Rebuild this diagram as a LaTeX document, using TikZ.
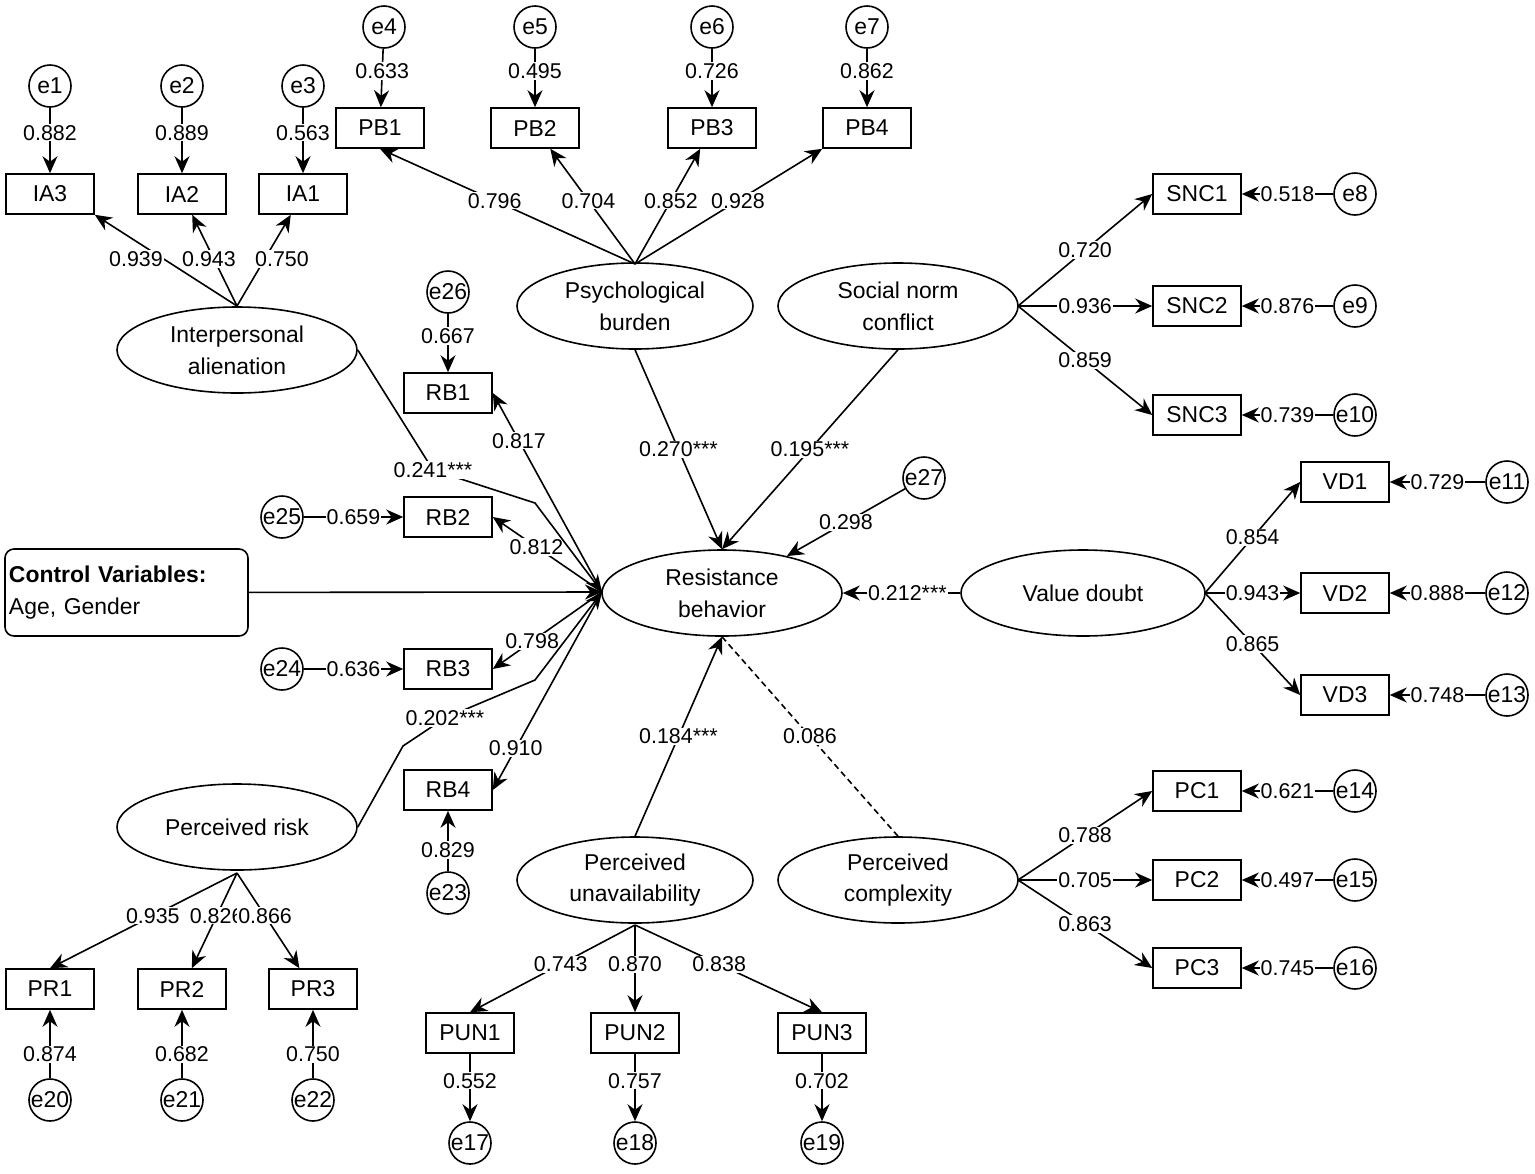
\documentclass[tikz,border=0pt]{standalone}
\usepackage{fontspec}
\setmainfont{Liberation Sans}
\usetikzlibrary{arrows.meta,shapes.geometric}
\begin{document}
\begin{tikzpicture}[x=1bp,y=-1bp,line width=1.6bp,
  box/.style={draw,minimum width=88bp,minimum height=40bp,inner sep=0pt,font=\fontsize{23}{25}\selectfont},
  err/.style={draw,circle,minimum size=42bp,inner sep=0pt,font=\fontsize{23}{25}\selectfont},
  lat/.style={draw,ellipse,minimum width=240bp,minimum height=86bp,inner sep=0pt,align=center,font=\fontsize{23}{32}\selectfont},
  lb/.style={fill=white,inner sep=1bp,font=\fontsize{21.5}{23}\selectfont},
  ar/.style={-{Stealth[length=17bp,width=15bp]}}]
\useasboundingbox (0,0) rectangle (1535,1173);
% boxes
\foreach \n/\x/\y in {IA3/50/194,IA2/182/194,IA1/303/194,PB1/380/128,PB2/535/128,PB3/712/128,PB4/867/128,
 SNC1/1197/194,SNC2/1197/306,SNC3/1197/415,RB1/448/393,RB2/448/517,RB3/448/669,RB4/448/790,
 VD1/1345/482,VD2/1345/593,VD3/1345/695,PC1/1197/791,PC2/1197/880,PC3/1197/968,
 PR1/50/989,PR2/182/989,PR3/313/989,PUN1/470/1033,PUN2/635/1033,PUN3/822/1033}
 \node[box] (\n) at (\x,\y) {\n};
\foreach \n/\x/\y in {e1/50/86,e2/182/86,e3/303/86,e4/384/27,e5/535/27,e6/712/27,e7/867/27,
 e8/1355/194,e9/1355/306,e10/1355/415,e26/448/292,e25/282/517,e24/282/669,e23/448/893,
 e11/1507/482,e12/1507/593,e13/1507/695,e14/1355/791,e15/1355/880,e16/1355/968,
 e20/50/1100,e21/182/1100,e22/313/1100,e17/470/1143,e18/635/1143,e19/822/1143,e27/924/478}
 \node[err] (\n) at (\x,\y) {\n};
% latent
\node[lat] (IA) at (237,350) {Interpersonal\\alienation};
\node[lat,minimum width=236bp] (PB) at (635,306) {Psychological\\burden};
\node[lat] (SN) at (898,306) {Social norm\\conflict};
\node[lat] (RES) at (722,593) {Resistance\\behavior};
\node[lat,minimum width=244bp] (VD) at (1083,593) {Value doubt};
\node[lat] (PR) at (237,827) {Perceived risk};
\node[lat,minimum width=236bp] (PU) at (635,880) {Perceived\\unavailability};
\node[lat] (PC) at (898,880) {Perceived\\complexity};
\node[draw,rounded corners=9bp,minimum width=243bp,minimum height=87bp,align=left,inner sep=4bp,
  font=\fontsize{23}{32}\selectfont,text width=235bp] (CV) at (126.5,592.5) {\textbf{Control Variables:}\\Age, Gender};
% error arrows with labels
\foreach \e/\t/\v in {e1/IA3/0.882,e2/IA2/0.889,e3/IA1/0.563,e4/PB1/0.633,e5/PB2/0.495,e6/PB3/0.726,e7/PB4/0.862,e26/RB1/0.667}
 \draw[ar] (\e) -- node[lb,pos=0.38]{\v} (\t);
\foreach \e/\t/\v in {e8/SNC1/0.518,e9/SNC2/0.876,e10/SNC3/0.739,e25/RB2/0.659,e24/RB3/0.636,
 e11/VD1/0.729,e12/VD2/0.888,e13/VD3/0.748,e14/PC1/0.621,e15/PC2/0.497,e16/PC3/0.745,e27/RES/0.298}
 \draw[ar] (\e) -- node[lb]{\v} (\t);
\foreach \e/\t/\v in {e20/PR1/0.874,e21/PR2/0.682,e22/PR3/0.750,e23/RB4/0.829}
 \draw[ar] (\e) -- node[lb,pos=0.35]{\v} (\t);
\foreach \t/\e/\v in {PUN1/e17/0.552,PUN2/e18/0.757,PUN3/e19/0.702}
 \draw[ar] (\t) -- node[lb,pos=0.4]{\v} (\e);
% loadings
\coordinate (IAt) at (237,306);
\draw[ar] (IAt) -- (IA3.south east);
\draw[ar] (IAt) -- (IA2);
\draw[ar] (IAt) -- (IA1);
\node[lb] (l1) at (136,259) {0.939};
\node[lb] (l2) at (209,259) {0.943};
\node[lb] (l3) at (282,259) {0.750};
\coordinate (PBt) at (635,264);
\draw[ar] (PBt) -- node[lb,pos=0.55]{0.796} (PB1.south);
\draw[ar] (PBt) -- node[lb,pos=0.55]{0.704} (PB2);
\draw[ar] (PBt) -- node[lb,pos=0.55]{0.852} (PB3);
\draw[ar] (PBt) -- node[lb,pos=0.55]{0.928} (PB4.south west);
\coordinate (SNr) at (1018,306);
\draw[ar] (SNr) -- node[lb]{0.720} (SNC1.west);
\draw[ar] (SNr) -- node[lb]{0.936} (SNC2.west);
\draw[ar] (SNr) -- node[lb]{0.859} (SNC3.west);
\coordinate (VDr) at (1205,593);
\draw[ar] (VDr) -- node[lb]{0.854} (VD1.west);
\draw[ar] (VDr) -- node[lb]{0.943} (VD2.west);
\draw[ar] (VDr) -- node[lb]{0.865} (VD3.west);
\coordinate (PCr) at (1018,880);
\draw[ar] (PCr) -- node[lb]{0.788} (PC1.west);
\draw[ar] (PCr) -- node[lb]{0.705} (PC2.west);
\draw[ar] (PCr) -- node[lb]{0.863} (PC3.west);
\coordinate (PRb) at (237,873);
\draw[ar] (PRb) -- node[lb,pos=0.45]{0.935} (PR1.north);
\draw[ar] (PRb) -- node[lb,pos=0.45]{0.826} (PR2);
\draw[ar] (PRb) -- node[lb,pos=0.45]{0.866} (PR3);
\coordinate (PUb) at (635,925);
\draw[ar] (PUb) -- node[lb,pos=0.45]{0.743} (PUN1.north);
\draw[ar] (PUb) -- node[lb,pos=0.45]{0.870} (PUN2);
\draw[ar] (PUb) -- node[lb,pos=0.45]{0.838} (PUN3.north);
% RB loadings
\coordinate (RL) at (602,592);
\draw[ar] (RL) -- node[lb,pos=0.76]{0.817} (RB1.east);
\draw[ar] (RL) -- node[lb,pos=0.6]{0.812} (RB2.east);
\draw[ar] (RL) -- node[lb,pos=0.64]{0.798} (RB3.east);
\draw[ar] (RL) -- node[lb,pos=0.79]{0.910} (RB4.east);
% structural paths
\draw[ar] (CV) -- (RL);
\draw[ar] (IA.east) -- (433,470) node[lb]{0.241***} -- (535,503) -- (RL);
\draw[ar] (PR.east) -- (403,746) -- (445,718) node[lb]{0.202***} -- (535,680) -- (RL);
\draw[ar] (PB.south) -- node[lb]{0.270***} (RES.north);
\draw[ar] (SN.south) -- node[lb]{0.195***} (RES.north);
\draw[ar] (VD) -- node[lb,pos=0.45]{0.212***} (RES);
\draw[ar] (PU.north) -- node[lb]{0.184***} (RES.south);
\draw[dashed,dash pattern=on 6bp off 4bp] (PC.north) -- node[lb]{0.086} (RES.south);
\end{tikzpicture}
\end{document}
